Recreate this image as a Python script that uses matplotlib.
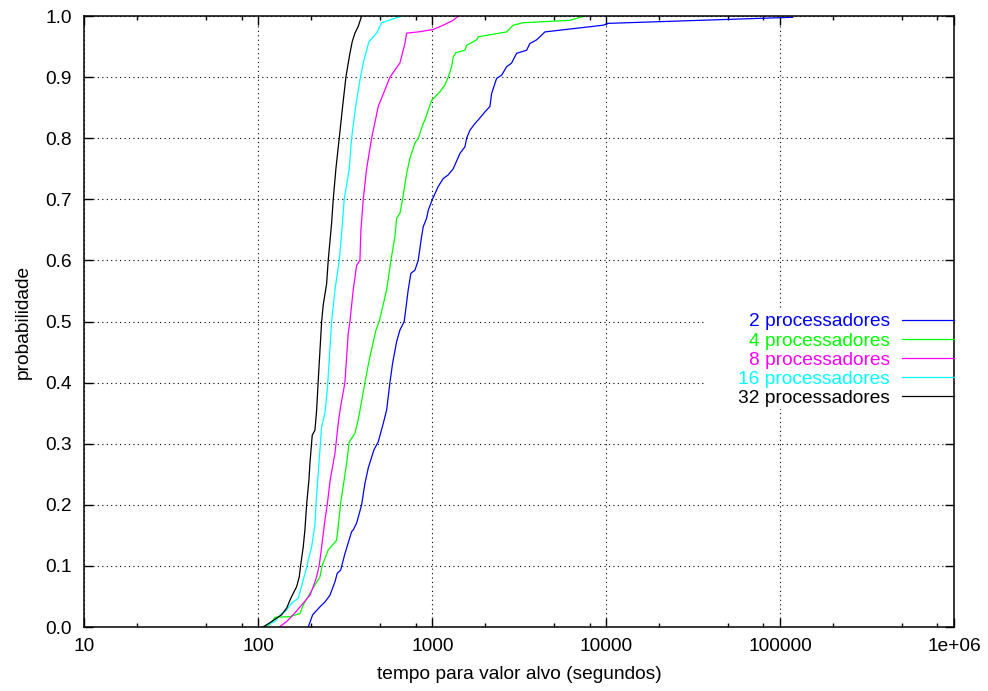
import matplotlib
matplotlib.use("Agg")
import matplotlib.pyplot as plt
from matplotlib.patches import Rectangle
from matplotlib.ticker import FixedLocator, LogLocator, NullFormatter

plt.rcParams['font.family'] = ['Liberation Sans', 'DejaVu Sans']

t_2 = [193.3, 204.9, 225.7, 241.1, 257.6, 275.3, 283.8, 296.8, 314.1, 343.2,
       350.6, 366.7, 391.8, 409.4, 427.6, 461.1, 488.2, 521.5, 545.6, 569.8,
       590.6, 622.8, 650.4, 688.5, 726.0, 752.4, 793.2, 828.7, 866.7, 885.3,
       926.1, 946.0, 1000, 1080, 1154, 1233, 1317, 1439, 1538, 1573,
       1643, 1755, 1834, 2003, 2141, 2189, 2339, 2499, 2669, 2852,
       3047, 3479, 3634, 3971, 4433, 9585, 10240, 117950]
p_2 = [0.0, 0.020, 0.033, 0.041, 0.052, 0.074, 0.088, 0.093, 0.120, 0.156,
       0.159, 0.170, 0.200, 0.235, 0.260, 0.290, 0.303, 0.333, 0.355, 0.400,
       0.432, 0.467, 0.486, 0.500, 0.552, 0.579, 0.584, 0.600, 0.639, 0.655,
       0.669, 0.682, 0.700, 0.721, 0.734, 0.740, 0.750, 0.775, 0.786, 0.800,
       0.813, 0.824, 0.830, 0.843, 0.852, 0.873, 0.898, 0.903, 0.917, 0.923,
       0.939, 0.944, 0.955, 0.961, 0.974, 0.985, 0.988, 0.998]

t_4 = [111.4, 121.6, 124.4, 151.7, 173.2, 180.9, 208.4, 225.7, 232.6, 251.8,
       281.4, 287.4, 296.0, 321.3, 332.6, 358.6, 374.6, 409.4, 433.3, 473.5,
       494.7, 545.6, 577.5, 608.9, 622.8, 650.4, 674.0, 710.8, 742.5, 793.2,
       828.7, 885.3, 905.5, 989.5, 1104, 1180, 1233, 1289, 1317, 1365,
       1538, 1573, 1795, 1834, 2669, 2913, 3325, 6169, 7521]
p_4 = [0.0, 0.011, 0.016, 0.017, 0.022, 0.036, 0.066, 0.082, 0.101, 0.126,
       0.142, 0.164, 0.200, 0.268, 0.303, 0.317, 0.339, 0.400, 0.437, 0.486,
       0.500, 0.552, 0.600, 0.639, 0.669, 0.677, 0.700, 0.742, 0.767, 0.792,
       0.800, 0.824, 0.830, 0.862, 0.876, 0.887, 0.900, 0.917, 0.933, 0.940,
       0.944, 0.952, 0.961, 0.966, 0.974, 0.985, 0.989, 0.993, 1.000]

t_8 = [131.7, 145.3, 158.5, 180.9, 197.7, 206.5, 216.0, 223.6, 230.8, 241.1,
       248.5, 258.6, 275.3, 287.4, 296.8, 314.1, 328.2, 335.7, 350.6, 366.7,
       383.1, 388.3, 400.3, 418.6, 447.3, 488.2, 533.3, 569.8, 650.4, 695.0,
       710.8, 828.7, 1011, 1154, 1317, 1407]
p_8 = [0.0, 0.009, 0.020, 0.039, 0.052, 0.066, 0.082, 0.101, 0.131, 0.175,
       0.200, 0.241, 0.284, 0.333, 0.361, 0.400, 0.481, 0.500, 0.552, 0.592,
       0.600, 0.650, 0.700, 0.750, 0.800, 0.852, 0.879, 0.900, 0.923, 0.955,
       0.972, 0.974, 0.978, 0.985, 0.993, 1.000]

t_16 = [105.1, 124.4, 135.9, 142.0, 155.2, 169.3, 180.9, 190.8, 193.3, 202.2,
        211.2, 214.0, 220.7, 230.8, 241.1, 249.2, 263.4, 275.3, 291.3, 300.7,
        311.2, 332.7, 343.2, 361.9, 383.1, 400.3, 431.6, 447.3, 477.9, 510.5,
        665.3]
p_16 = [0.0, 0.009, 0.022, 0.025, 0.039, 0.047, 0.077, 0.101, 0.110, 0.131,
        0.167, 0.200, 0.252, 0.328, 0.350, 0.390, 0.500, 0.552, 0.600, 0.644,
        0.700, 0.750, 0.800, 0.852, 0.895, 0.923, 0.958, 0.963, 0.972, 0.989,
        1.000]

t_32 = [106.6, 119.1, 135.9, 145.3, 150.3, 155.2, 165.8, 171.6, 174.8, 180.9,
        185.0, 189.2, 195.1, 197.7, 203.8, 211.2, 216.0, 220.7, 230.8, 235.7,
        246.6, 251.8, 263.4, 269.1, 278.8, 291.3, 304.7, 318.3, 328.2, 335.7,
        346.0, 358.6, 374.6, 391.8]
p_32 = [0.0, 0.009, 0.020, 0.031, 0.041, 0.050, 0.066, 0.082, 0.101, 0.131,
        0.159, 0.200, 0.241, 0.268, 0.314, 0.322, 0.355, 0.404, 0.500, 0.527,
        0.562, 0.600, 0.661, 0.700, 0.750, 0.800, 0.852, 0.900, 0.923, 0.939,
        0.958, 0.972, 0.983, 1.000]

labels = ['2 processadores', '4 processadores', '8 processadores',
          '16 processadores', '32 processadores']
colors = ['#0000ff', '#00ff00', '#ff00ff', '#00ffff', '#000000']

x_ticks = [10, 100, 1000, 10000, 100000, 1000000]
x_ticklabels = ['10', '100', '1000', '10000', '100000', '1e+06']
y_ticks = [0.0, 0.1, 0.2, 0.3, 0.4, 0.5, 0.6, 0.7, 0.8, 0.9, 1.0]

fs = 13.8

fig = plt.figure(figsize=(9.88, 6.91), dpi=100)
ax = fig.add_axes([0.0855, 0.0926, 0.8804, 0.8842])

series = [(t_2, p_2), (t_4, p_4), (t_8, p_8), (t_16, p_16), (t_32, p_32)]
for (t, p), lab, col in zip(series, labels, colors):
    ax.plot(t, p, color=col, lw=0.9, label=lab)

ax.set_xscale('log')
ax.set_xlim(10, 1e6)
ax.set_ylim(0, 1)
ax.xaxis.set_major_locator(FixedLocator(x_ticks))
ax.set_xticklabels(x_ticklabels)
ax.xaxis.set_minor_locator(LogLocator(base=10, subs=(2, 5, 8)))
ax.xaxis.set_minor_formatter(NullFormatter())
ax.set_yticks(y_ticks)
ax.set_yticklabels(['%.1f' % v for v in y_ticks])

ax.tick_params(which='both', direction='in', top=True, right=True,
               labelsize=fs, width=1.0)
ax.tick_params(which='major', length=6.5)
ax.tick_params(which='minor', length=3.2)
ax.tick_params(axis='x', pad=8)
ax.tick_params(axis='y', pad=9)
for s in ax.spines.values():
    s.set_linewidth(1.1)

ax.set_axisbelow(True)
ax.grid(True, which='major', color='black', linestyle=(0, (1, 3)), lw=0.8)

# white area behind the key, like gnuplot clears it
ax.add_patch(Rectangle((0.713, 0.357), 0.287, 0.162, transform=ax.transAxes,
                       facecolor='white', edgecolor='none', zorder=1))

ax.legend(loc='center right', bbox_to_anchor=(1.0, 0.437), frameon=False,
          markerfirst=False, labelcolor='linecolor', fontsize=fs,
          handlelength=2.75, handletextpad=0.6, borderpad=0, borderaxespad=0,
          labelspacing=0.09)

ax.set_xlabel('tempo para valor alvo (segundos)', fontsize=fs, labelpad=8)
ax.set_ylabel('probabilidade', fontsize=fs, labelpad=10)

fig.savefig('out.png', dpi=100)
